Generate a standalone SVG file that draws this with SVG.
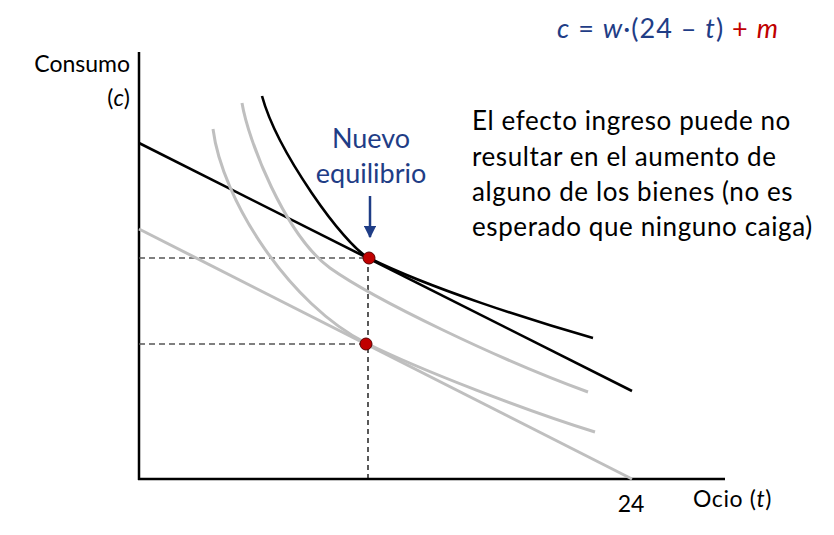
<svg xmlns="http://www.w3.org/2000/svg" width="834" height="535" viewBox="0 0 834 535">
<defs>
<style>
.t{font-family:Lato,"Open Sans","Liberation Sans",sans-serif;fill:#000}
.b{fill:#1f3d86}
.r{fill:#c00000}
.ax{stroke:#000;stroke-width:2.5;fill:none}
.blk{stroke:#000;stroke-width:2.6;fill:none;stroke-linecap:butt}
.gry{stroke:#bfbfbf;stroke-width:3;fill:none}
.dh{stroke:#555;stroke-width:1.3;stroke-dasharray:6 4;fill:none}
.dv{stroke:#000;stroke-width:1.3;stroke-dasharray:5 4;fill:none}
.pt{fill:#c00000;stroke:#5a0000;stroke-width:1}
.note{font-size:26px;letter-spacing:0.6px}
</style>
<marker id="ah" viewBox="0 0 10 10" refX="9" refY="5" markerWidth="5" markerHeight="5" orient="auto" markerUnits="strokeWidth">
<path d="M0,0 L10,5 L0,10 z" fill="#1f3d86"/>
</marker>
</defs>
<rect width="834" height="535" fill="#fff"/>

<g id="axes">
<line class="ax" x1="139" y1="52" x2="139" y2="480"/>
<line class="ax" x1="138" y1="479" x2="725" y2="479"/>
</g>

<g id="connectors">
<line class="dh" x1="139" y1="258" x2="369" y2="258"/>
<line class="dh" x1="139" y1="344" x2="366" y2="344"/>
<line class="dv" x1="368" y1="258" x2="368" y2="479"/>
<line x1="370" y1="196" x2="370" y2="237" stroke="#1f3d86" stroke-width="2.5" marker-end="url(#ah)"/>
</g>

<g id="budget-old">
<line class="gry" x1="139" y1="229" x2="632" y2="479"/>
</g>
<g id="budget-new">
<line class="blk" x1="139" y1="143" x2="632" y2="391"/>
</g>
<g id="ic-low">
<path class="gry" d="M213,129 C222,200 290,305 366,343 C420,370 530,412 595,432"/>
</g>
<g id="ic-mid">
<path class="gry" d="M242,103 C248,140 285,235 330,268 C375,300 500,360 588,392"/>
</g>
<g id="ic-new">
<path class="blk" d="M262,96 C277,151 344,245.5 369,258 C429,288 533,321 593,338"/>
</g>

<g id="eq-new"><circle class="pt" cx="369" cy="258" r="6"/></g>
<g id="eq-old"><circle class="pt" cx="366" cy="344" r="6"/></g>

<g id="label-eq">
<text class="t b" x="371" y="148" font-size="27" text-anchor="middle">Nuevo</text>
<text class="t b" x="371" y="183" font-size="27" text-anchor="middle">equilibrio</text>
</g>

<g id="label-y">
<text class="t" x="130" y="72" font-size="23" text-anchor="end">Consumo</text>
<text class="t" x="130" y="106" font-size="23" text-anchor="end">(<tspan font-style="italic">c</tspan>)</text>
</g>
<g id="label-x">
<text class="t" x="631" y="512" font-size="23" text-anchor="middle">24</text>
<text class="t" x="693" y="507" font-size="23" letter-spacing="0.6">Ocio (<tspan font-style="italic">t</tspan>)</text>
</g>

<g id="formula">
<text class="t b" x="557" y="38" font-size="27" letter-spacing="1"><tspan font-style="italic">c</tspan> = <tspan font-style="italic">w</tspan>·(24 – <tspan font-style="italic">t</tspan>) <tspan class="r">+ </tspan><tspan class="r" font-style="italic">m</tspan></text>
</g>

<g id="note">
<text class="t note" x="472" y="130">El efecto ingreso puede no</text>
<text class="t note" x="472" y="166">resultar en el aumento de</text>
<text class="t note" x="472" y="201">alguno de los bienes (no es</text>
<text class="t note" x="472" y="236">esperado que ninguno caiga)</text>
</g>
</svg>
